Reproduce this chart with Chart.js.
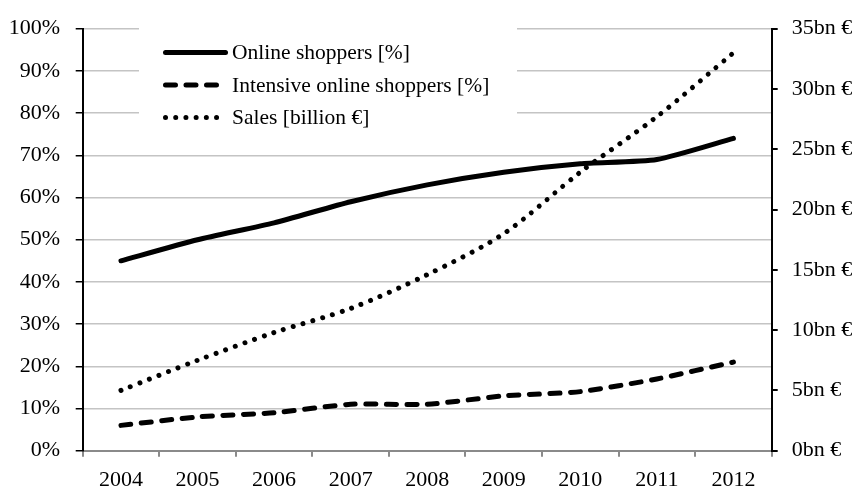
<!DOCTYPE html>
<html>
<head>
<meta charset="utf-8">
<script src="https://cdn.jsdelivr.net/npm/chart.js@4"></script>
<style>
  body { margin: 0; background: #fff; }
  #wrap { width: 865px; height: 489px; }
</style>
</head>
<body>
<div id="wrap"><canvas id="chart" width="865" height="489"></canvas></div>
<script>
// Values
let years = ['2004', '2005', '2006', '2007', '2008', '2009', '2010', '2011', '2012'];
let onlineShoppers = [45, 50, 54, 59, 63, 66, 68, 69, 74];
let intensiveShoppers = [6, 8, 9, 11, 11, 13, 14, 17, 21];
let salesBillion = [5, 7.5, 9.8, 11.8, 14.6, 18, 23.1, 27.7, 33];
let percentTicks = [0, 10, 20, 30, 40, 50, 60, 70, 80, 90, 100];
let salesTicks = [0, 5, 10, 15, 20, 25, 30, 35];

let fontFamily = '"Liberation Serif", "Times New Roman", serif';
let gridGrey = '#c4c4c4';
let axisGrey = '#8a8a8a';

// Legend drawn inside the plot, on a white box that hides the grid lines
let legendBox = { x: 139, y: 28, w: 378, h: 117 };
let legendRows = [52.5, 85, 117.5];

const insideLegend = {
    id: 'insideLegend',
    beforeDatasetsDraw(chart) {
        let ctx = chart.ctx;
        ctx.save();
        ctx.fillStyle = '#fff';
        ctx.fillRect(legendBox.x, legendBox.y, legendBox.w, legendBox.h);
        ctx.restore();
    },
    afterDraw(chart) {
        let ctx = chart.ctx;
        let sampleEnds = [225.5, 222, 218];
        chart.data.datasets.forEach((ds, i) => {
            let y = legendRows[i];
            ctx.save();
            ctx.strokeStyle = ds.borderColor;
            ctx.lineWidth = ds.borderWidth;
            ctx.lineCap = 'round';
            ctx.setLineDash(ds.borderDash || []);
            ctx.beginPath();
            ctx.moveTo(165.5, y);
            ctx.lineTo(sampleEnds[i], y);
            ctx.stroke();
            ctx.setLineDash([]);
            ctx.fillStyle = '#000';
            ctx.font = '21.5px ' + fontFamily;
            ctx.textBaseline = 'middle';
            ctx.textAlign = 'left';
            ctx.fillText(ds.label, 232, y + 1);
            ctx.restore();
        });
    }
};

let ctx = document.getElementById('chart').getContext('2d');
new Chart(ctx, {
    type: 'line',
    data: {
        labels: years,
        datasets: [{
            label: 'Online shoppers [%]',
            data: onlineShoppers,
            borderColor: '#000',
            borderWidth: 5,
            borderCapStyle: 'round',
            tension: 0.2,
            pointRadius: 0,
            yAxisID: 'y'
        }, {
            label: 'Intensive online shoppers [%]',
            data: intensiveShoppers,
            borderColor: '#000',
            borderWidth: 5,
            borderDash: [10, 10.5],
            borderCapStyle: 'round',
            tension: 0.2,
            pointRadius: 0,
            yAxisID: 'y'
        }, {
            label: 'Sales [billion \u20ac]',
            data: salesBillion,
            borderColor: '#000',
            borderWidth: 5,
            borderDash: [0.01, 10.2],
            borderCapStyle: 'round',
            tension: 0.3,
            pointRadius: 0,
            yAxisID: 'y1'
        }]
    },
    options: {
        responsive: false,
        animation: false,
        layout: { padding: { top: 21.7, left: 0, right: 0, bottom: 0 } },
        plugins: {
            legend: { display: false },
            tooltip: { enabled: false }
        },
        scales: {
            x: {
                offset: true,
                grid: {
                    offset: true,
                    drawOnChartArea: false,
                    tickLength: 6,
                    tickColor: axisGrey,
                    lineWidth: 2
                },
                border: { color: axisGrey, width: 2 },
                ticks: {
                    color: '#000',
                    padding: 10.5,
                    maxRotation: 0,
                    font: { family: fontFamily, size: 22 }
                },
                afterFit(scale) { scale.height = 38.3; }
            },
            y: {
                position: 'left',
                min: 0,
                max: 100,
                afterBuildTicks(scale) {
                    scale.ticks = percentTicks.map(v => ({ value: v }));
                },
                grid: {
                    color: gridGrey,
                    lineWidth: 1.5,
                    tickColor: '#000',
                    tickLength: 7
                },
                border: { color: '#000', width: 2 },
                ticks: {
                    color: '#000',
                    padding: 15.5,
                    callback: v => v + '%',
                    font: { family: fontFamily, size: 22 }
                },
                afterFit(scale) { scale.width = 82.7; }
            },
            y1: {
                position: 'right',
                min: 0,
                max: 35,
                afterBuildTicks(scale) {
                    scale.ticks = salesTicks.map(v => ({ value: v }));
                },
                grid: {
                    drawOnChartArea: false,
                    tickColor: '#000',
                    tickLength: 6,
                    lineWidth: 2
                },
                border: { color: '#000', width: 2 },
                ticks: {
                    color: '#000',
                    padding: 14,
                    callback: v => v + 'bn \u20ac',
                    font: { family: fontFamily, size: 22 }
                },
                afterFit(scale) { scale.width = 93.3; }
            }
        }
    },
    plugins: [insideLegend]
});
</script>
</body>
</html>
